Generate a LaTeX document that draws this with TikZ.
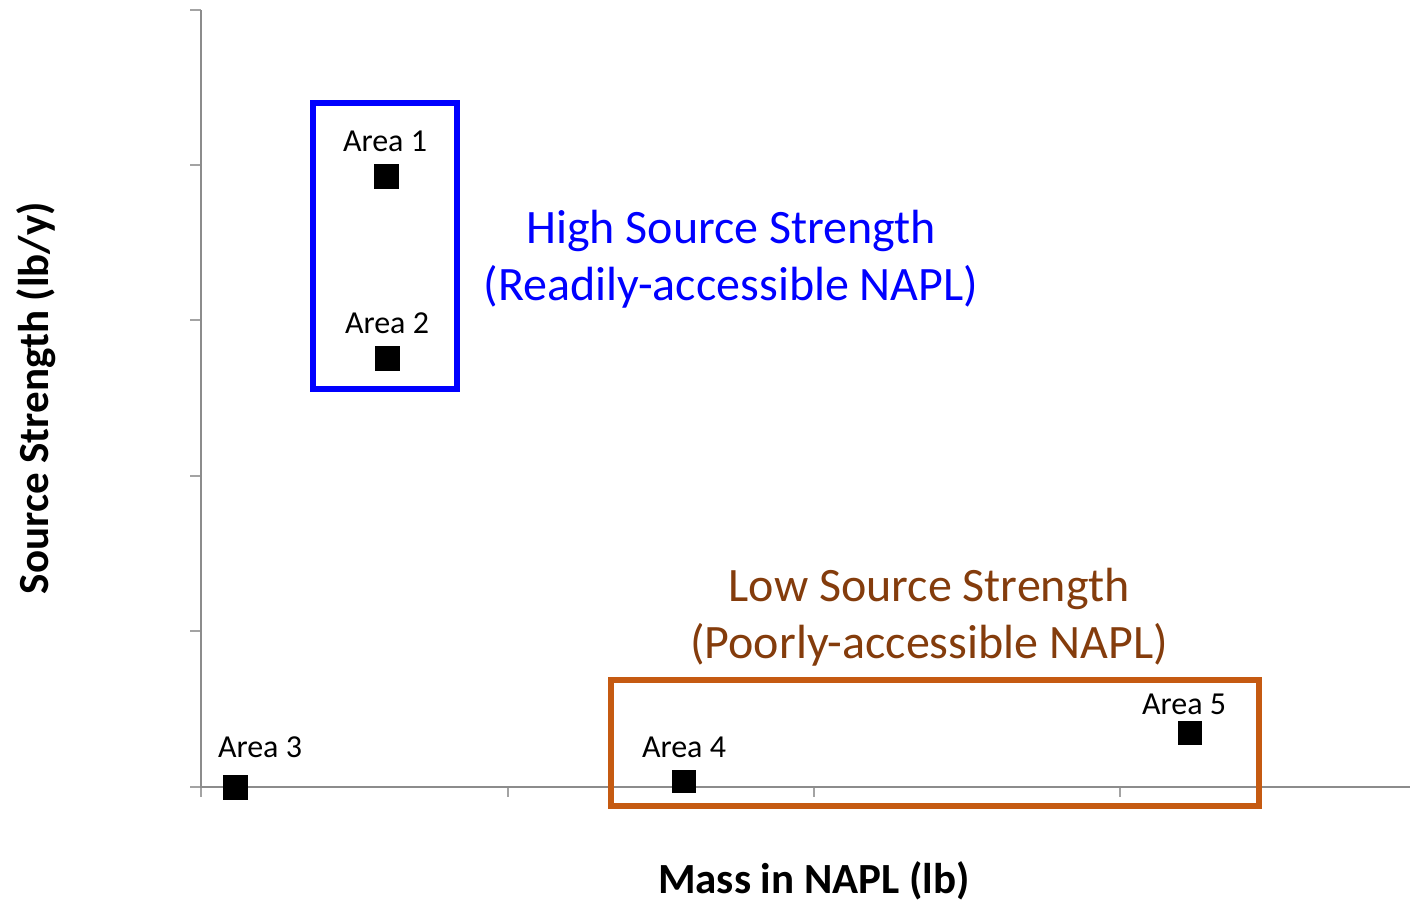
\documentclass[tikz,border=0pt]{standalone}
\usepackage{fontspec}
\setmainfont{Carlito}
\definecolor{axisgray}{HTML}{8C8C8C}
\definecolor{boxorange}{HTML}{C55A11}
\definecolor{textbrown}{HTML}{843C0C}
\begin{document}
\begin{tikzpicture}[x=1pt,y=-1pt,
  axisline/.style={draw=axisgray,line width=1.6pt},
  tickline/.style={draw=axisgray!80,line width=1.2pt},
  pt/.style={fill=black,minimum width=25pt,minimum height=25pt,inner sep=0pt},
  arealabel/.style={font=\fontsize{32}{38}\selectfont,inner sep=0pt,anchor=base},
  biglabel/.style={font=\fontsize{48}{57}\selectfont,align=center,inner sep=0pt},
  axtitle/.style={font=\fontsize{43}{50}\selectfont\bfseries,inner sep=0pt}]
\useasboundingbox (0,0) rectangle (1410,902);
% axes
\coordinate (o) at (201,787);
\coordinate (ytop) at (201,10);
\coordinate (xend) at (1410,787);
\foreach \y in {10,165,320,476,631,787} \draw[tickline] (190,\y) -- (201,\y);
\foreach \x in {201,508,814,1120} \draw[tickline] (\x,787) -- (\x,797);
\draw[axisline] (ytop) -- (o) -- (xend);
% boxes
\node[draw=blue,line width=6.5pt,minimum width=144pt,minimum height=286pt,inner sep=0pt] (hbox) at (385,246) {};
\node[draw=boxorange,line width=6.5pt,minimum width=648pt,minimum height=126pt,inner sep=0pt] (lbox) at (935,743) {};
% points
\node[pt] (a1) at (386,176) {};
\node[pt] (a2) at (387,358) {};
\node[pt] (a3) at (235,787) {};
\node[pt,minimum width=24pt,minimum height=23pt] (a4) at (684,781) {};
\node[pt,minimum width=24pt,minimum height=24pt] (a5) at (1190,733) {};
\node[arealabel] (l1) at (385,151) {Area 1};
\node[arealabel] (l2) at (387,333) {Area 2};
\node[arealabel] (l3) at (260,757) {Area 3};
\node[arealabel] (l4) at (684,757) {Area 4};
\node[arealabel] (l5) at (1184,714) {Area 5};
% group labels
\node[biglabel,text=blue] (ht) at (731,259) {High Source Strength\\(Readily-accessible NAPL)};
\node[biglabel,text=textbrown] (lt) at (929,617) {Low Source Strength\\(Poorly-accessible NAPL)};
% axis titles
\node[axtitle,anchor=base] (xt) at (814,893) {Mass in NAPL (lb)};
\node[axtitle,rotate=90,anchor=base] (yt) at (48,398) {Source Strength (lb/y)};
\end{tikzpicture}
\end{document}
